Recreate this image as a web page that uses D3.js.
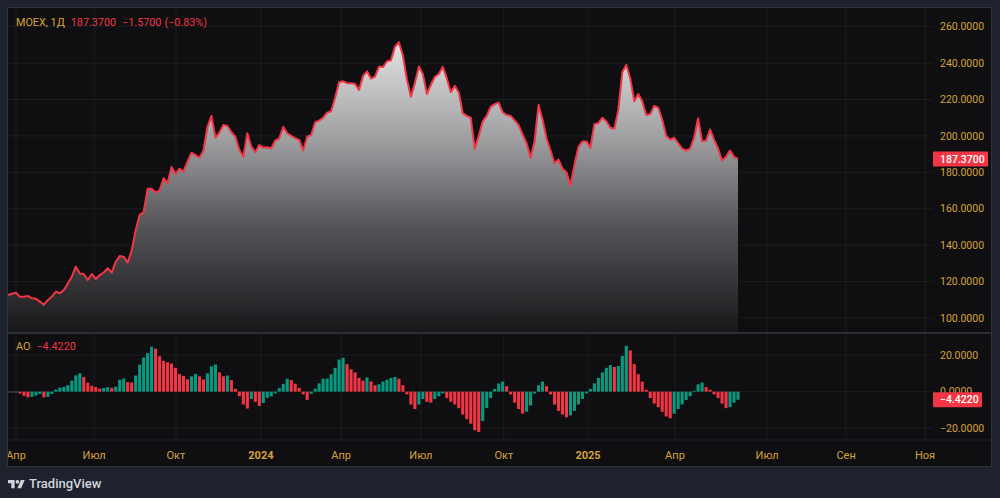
<!DOCTYPE html>
<html>
<head>
<meta charset="utf-8">
<script src="https://cdn.jsdelivr.net/npm/d3@7"></script>
<style>
html, body { margin: 0; padding: 0; background: #1e222d; }
svg { display: block; font-family: Roboto, "Trebuchet MS", sans-serif; }
</style>
</head>
<body>
<svg></svg>
<script>
// MOEX daily close (one point ~ every 4px)
var prices = [
  112.6, 113.3, 113.9, 111.7, 111.7, 112.1, 110.8, 110.6, 109.0, 107.3,
  109.9, 111.7, 114.5, 113.6, 115.4, 119.0, 122.7, 128.2, 124.5, 124.2,
  120.9, 124.2, 121.4, 123.6, 125.0, 127.3, 124.9, 130.9, 134.0, 133.7,
  130.4, 137.0, 148.0, 156.6, 158.0, 171.0, 171.0, 169.0, 170.0, 176.8,
  174.0, 183.0, 179.1, 182.0, 180.4, 185.9, 190.8, 189.5, 188.0, 192.0,
  205.0, 211.0, 199.0, 201.8, 206.0, 205.5, 202.0, 199.6, 192.3, 188.5,
  201.5, 194.1, 191.0, 195.0, 193.6, 193.8, 193.2, 197.5, 198.6, 205.0,
  201.5, 200.0, 198.8, 197.8, 192.0, 199.6, 200.5, 207.5, 208.4, 210.0,
  212.8, 213.5, 221.0, 229.5, 230.0, 229.0, 229.0, 228.5, 225.3, 233.0,
  235.5, 231.5, 232.6, 238.1, 237.8, 241.0, 241.5, 249.0, 251.5, 244.0,
  231.0, 221.5, 229.0, 238.1, 234.0, 223.0, 228.0, 232.5, 234.0, 238.0,
  231.7, 224.0, 227.5, 224.0, 212.5, 211.0, 210.0, 193.0, 200.0, 208.0,
  211.0, 216.0, 217.5, 218.3, 213.0, 211.5, 211.0, 208.5, 206.0, 200.8,
  196.0, 188.0, 197.0, 217.0, 209.0, 198.7, 192.0, 185.0, 187.0, 182.0,
  180.0, 173.0, 184.0, 194.0, 197.0, 197.0, 193.5, 206.5, 207.0, 210.0,
  208.0, 204.5, 204.0, 214.3, 235.0, 239.0, 231.5, 219.0, 223.0, 219.0,
  211.5, 212.0, 216.5, 215.5, 209.0, 200.0, 198.0, 199.0, 196.0, 193.0,
  192.0, 193.0, 199.0, 209.7, 197.0, 197.5, 203.5, 198.0, 193.0, 186.5,
  188.5, 192.0, 188.5, 187.37
];

// Awesome Oscillator, same points
var aoValues = [
  -0.2, -0.3, -0.3, -1.0, -2.3, -3.1, -2.8, -2.1, -1.3, -3.1,
  -2.8, -1.2, 1.2, 2.2, 2.6, 3.5, 6.0, 8.9, 10.0, 8.0,
  4.9, 3.2, 2.5, 1.6, 2.0, 2.4, 2.1, 2.7, 6.5, 7.2,
  5.2, 5.0, 8.8, 14.7, 18.6, 21.0, 24.5, 23.5, 19.3, 16.8,
  16.0, 15.3, 13.0, 9.6, 8.6, 6.7, 8.4, 9.6, 8.4, 6.7,
  10.0, 13.8, 14.8, 10.5, 8.4, 8.8, 6.3, 1.5, -2.5, -7.0,
  -9.2, -4.0, -5.5, -7.8, -6.2, -3.4, -2.6, -1.0, 1.9, 4.2,
  7.0, 6.3, 4.3, 2.0, -1.5, -4.5, -1.2, 1.6, 4.5, 7.1,
  7.1, 9.5, 13.0, 17.5, 18.5, 15.0, 12.2, 10.5, 7.5, 6.0,
  7.8, 5.6, 3.5, 4.0, 5.5, 6.5, 7.5, 8.0, 7.0, 3.5,
  -1.5, -7.0, -9.5, -7.0, -4.0, -5.5, -6.0, -4.0, -2.5, -1.0,
  -3.5, -5.5, -7.0, -9.0, -12.5, -15.0, -17.5, -21.0, -22.0, -16.0,
  -9.0, -3.5, 1.5, 4.5, 5.5, 3.0, -1.5, -6.0, -9.5, -12.0,
  -11.0, -7.5, -1.0, 3.5, 5.5, 3.0, -1.5, -7.0, -10.5, -12.5,
  -14.0, -13.0, -10.5, -7.0, -4.0, -1.0, 1.5, 4.5, 7.5, 10.5,
  13.0, 14.5, 13.5, 14.0, 19.5, 25.0, 22.5, 15.0, 9.5, 5.5,
  1.0, -3.5, -6.5, -8.5, -11.0, -13.5, -14.5, -12.0, -9.5, -7.0,
  -4.5, -2.5, 0.5, 4.0, 5.0, 2.5, 1.0, -1.5, -3.5, -6.5,
  -9.0, -8.5, -6.0, -4.422
];

// time axis labels, positioned by bar index
var timeTicks = [
  {label: "Апр", i: 2.0}, {label: "Июл", i: 21.6}, {label: "Окт", i: 42.1},
  {label: "2024", i: 63.4, year: true}, {label: "Апр", i: 83.5}, {label: "Июл", i: 103.5},
  {label: "Окт", i: 124.3}, {label: "2025", i: 145.4, year: true}, {label: "Апр", i: 167.2},
  {label: "Июл", i: 190.3}, {label: "Сен", i: 210.1}, {label: "Ноя", i: 229.9}
];
var priceTicks = [100, 120, 140, 160, 180, 200, 220, 240, 260];
var aoTicks = [20, 0, -20];

var symbol = "MOEX, 1Д";
var lastPrice = 187.37, change = -1.57, changePct = -0.83;
var lastAO = -4.422;

var width = 1000, height = 498;
var svg = d3.select("svg").attr("width", width).attr("height", height);

// NB: "top" is taken by window.top, so use a box object
var box = {x0: 8, x1: 991, y0: 8, y1: 466};
var paneRight = 933, priceBottom = 332, aoBottom = 440;

var gold = "#d4a23c", red = "#f23645", green = "#089981";
var gridColor = "rgba(255,255,255,0.06)";
var fmt = function(v) { return d3.format(".4f")(v).replace("-", "\u2212"); };

var x = d3.scaleLinear().domain([0, prices.length - 1]).range([box.x0, 738]);
var y = d3.scaleLinear().domain([100, 260]).range([318, 26.7]);
var yAO = d3.scaleLinear().domain([-20, 20]).range([428.3, 355]);

// frame
svg.append("rect")
    .attr("x", box.x0 - 0.5).attr("y", box.y0 - 0.5)
    .attr("width", box.x1 - box.x0 + 1).attr("height", box.y1 - box.y0 + 1)
    .attr("fill", "#0f0f12")
    .attr("stroke", "#2e323d");

var defs = svg.append("defs");
defs.append("clipPath").attr("id", "paneClip")
  .append("rect").attr("x", box.x0).attr("y", box.y0)
    .attr("width", paneRight - box.x0).attr("height", aoBottom - box.y0);
defs.append("clipPath").attr("id", "axisClip")
  .append("rect").attr("x", box.x0).attr("y", aoBottom)
    .attr("width", box.x1 - box.x0).attr("height", box.y1 - aoBottom);

var grad = defs.append("linearGradient").attr("id", "fillGrad")
    .attr("gradientUnits", "userSpaceOnUse")
    .attr("x1", 0).attr("x2", 0).attr("y1", y(252)).attr("y2", priceBottom);
grad.append("stop").attr("offset", 0).attr("stop-color", "#e4e4e4");
grad.append("stop").attr("offset", 0.35).attr("stop-color", "#9c9c9f");
grad.append("stop").attr("offset", 0.62).attr("stop-color", "#58585c");
grad.append("stop").attr("offset", 1).attr("stop-color", "#18181b");

var g = svg.append("g").attr("clip-path", "url(#paneClip)");

// vertical grid
g.selectAll(".vgrid")
  .data(timeTicks)
  .join("line")
    .attr("x1", d => x(d.i)).attr("x2", d => x(d.i))
    .attr("y1", box.y0).attr("y2", aoBottom)
    .attr("stroke", gridColor);

// horizontal grid
g.selectAll(".hgrid")
  .data(priceTicks)
  .join("line")
    .attr("x1", box.x0).attr("x2", paneRight)
    .attr("y1", d => y(d)).attr("y2", d => y(d))
    .attr("stroke", gridColor);

g.selectAll(".aogrid")
  .data(aoTicks)
  .join("line")
    .attr("x1", box.x0).attr("x2", paneRight)
    .attr("y1", d => yAO(d)).attr("y2", d => yAO(d))
    .attr("stroke", gridColor);

// price area + line
var area = d3.area()
    .x((d, i) => x(i))
    .y0(priceBottom)
    .y1(d => y(d));
var line = d3.line()
    .x((d, i) => x(i))
    .y(d => y(d));

g.append("path")
    .datum(prices)
    .attr("d", area)
    .attr("fill", "url(#fillGrad)");

g.append("path")
    .datum(prices)
    .attr("d", line)
    .attr("fill", "none")
    .attr("stroke", red)
    .attr("stroke-width", 2)
    .attr("stroke-linejoin", "round");

// AO histogram
var step = x(1) - x(0), barW = step - 0.9;
g.selectAll(".ao")
  .data(aoValues)
  .join("rect")
    .attr("x", (d, i) => x(i) - barW / 2)
    .attr("width", barW)
    .attr("y", d => Math.min(yAO(d), yAO(0)))
    .attr("height", d => Math.max(0.8, Math.abs(yAO(d) - yAO(0))))
    .attr("fill", (d, i) => (i > 0 && d < aoValues[i - 1]) ? red : green);

// pane separators
svg.append("line")
    .attr("x1", box.x0).attr("x2", box.x1)
    .attr("y1", priceBottom + 1).attr("y2", priceBottom + 1)
    .attr("stroke", "#2a2e39").attr("stroke-width", 2);
svg.append("line")
    .attr("x1", box.x0).attr("x2", box.x1)
    .attr("y1", aoBottom).attr("y2", aoBottom)
    .attr("stroke", "#1f222b");

// price axis
svg.selectAll(".ptick")
  .data(priceTicks)
  .join("text")
    .attr("x", 940)
    .attr("y", d => y(d))
    .attr("dy", "0.35em")
    .attr("fill", gold)
    .attr("font-size", 10.5)
    .text(d => fmt(d));

svg.selectAll(".atick")
  .data(aoTicks)
  .join("text")
    .attr("x", 940)
    .attr("y", d => yAO(d))
    .attr("dy", "0.35em")
    .attr("fill", gold)
    .attr("font-size", 10.5)
    .text(d => fmt(d));

// last value badges
function badge(yy, w, label) {
  svg.append("rect")
      .attr("x", paneRight).attr("y", yy - 7.5)
      .attr("width", w).attr("height", 15)
      .attr("rx", 1)
      .attr("fill", red);
  svg.append("text")
      .attr("x", 940).attr("y", yy)
      .attr("dy", "0.35em")
      .attr("fill", "#ffffff")
      .attr("font-size", 10.5)
      .attr("font-weight", 500)
      .text(label);
}
badge(y(lastPrice), 55, fmt(lastPrice));
badge(yAO(lastAO), 49, fmt(lastAO));

// time axis
svg.append("g").attr("clip-path", "url(#axisClip)")
  .selectAll("text")
  .data(timeTicks)
  .join("text")
    .attr("x", d => x(d.i))
    .attr("y", 455)
    .attr("dy", "0.35em")
    .attr("text-anchor", "middle")
    .attr("fill", gold)
    .attr("font-size", 11)
    .attr("font-weight", d => d.year ? 700 : 400)
    .text(d => d.label);

// legends
var legend = svg.append("text")
    .attr("x", 16).attr("y", 22)
    .attr("dy", "0.35em")
    .attr("font-size", 10.8)
    .attr("xml:space", "preserve");
legend.append("tspan").attr("fill", gold).text(symbol);
legend.append("tspan").attr("fill", red).attr("dx", 6).text(d3.format(".4f")(lastPrice));
legend.append("tspan").attr("fill", red).attr("dx", 6).text(fmt(change));
legend.append("tspan").attr("fill", red).attr("dx", 3)
    .text("(" + d3.format(".2f")(changePct).replace("-", "\u2212") + "%)");

var aoLegend = svg.append("text")
    .attr("x", 16).attr("y", 346)
    .attr("dy", "0.35em")
    .attr("font-size", 10.8);
aoLegend.append("tspan").attr("fill", gold).text("AO");
aoLegend.append("tspan").attr("fill", red).attr("dx", 6).text(fmt(lastAO));

// TradingView logo
var logo = svg.append("g").attr("transform", "translate(8,478) scale(0.47)");
logo.append("path").attr("d", "M14 22H7V11H0V4h14v18z").attr("fill", "#d1d4dc");
logo.append("circle").attr("cx", 20).attr("cy", 8).attr("r", 4).attr("fill", "#d1d4dc");
logo.append("path").attr("d", "M28 22h-8l7.5-18h8L28 22z").attr("fill", "#d1d4dc");
svg.append("text")
    .attr("x", 29).attr("y", 483)
    .attr("dy", "0.35em")
    .attr("fill", "#d1d4dc")
    .attr("font-size", 13)
    .attr("font-weight", 500)
    .text("TradingView");
</script>
</body>
</html>
